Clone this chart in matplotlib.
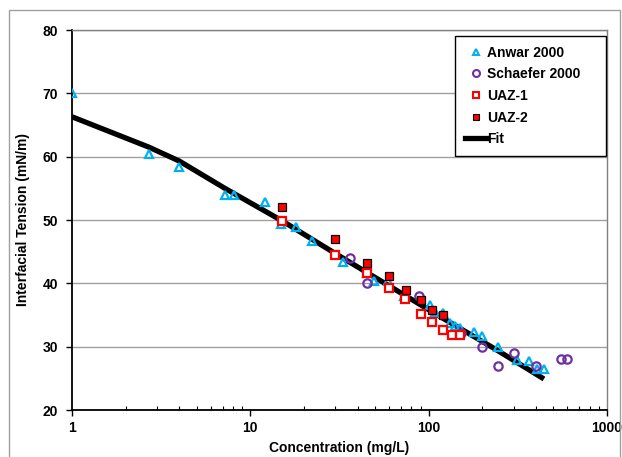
import matplotlib
matplotlib.use("Agg")
import matplotlib.pyplot as plt
from matplotlib.lines import Line2D

plt.rcParams['font.family'] = ['Liberation Sans', 'DejaVu Sans']
plt.rcParams['font.weight'] = 'bold'
plt.rcParams['font.size'] = 10

# data
anwar_c = [1.0, 2.7, 4.0, 7.2, 8.1, 12.1, 14.8, 18.1, 22.2, 33, 45, 49.4, 59, 73,
           102, 109, 121, 131, 140, 150, 180, 199, 244, 312, 364, 404, 444]
anwar_y = [70.0, 60.5, 58.4, 54.0, 54.0, 52.9, 49.4, 48.9, 46.7, 43.4, 41.6, 40.4, 40.4, 38.0,
           36.6, 35.5, 35.3, 33.7, 33.3, 32.9, 32.3, 31.7, 29.9, 27.9, 27.8, 26.4, 26.4]

schaefer_c = [36, 45, 88, 152, 200, 244, 300, 400, 553, 600]
schaefer_y = [44.0, 40.0, 38.0, 32.1, 30.0, 27.0, 29.0, 27.0, 28.0, 28.0]

uaz1_c = [15, 30, 45, 60, 74, 90, 104, 120, 135, 150]
uaz1_y = [49.8, 44.5, 41.7, 39.2, 37.6, 35.1, 33.9, 32.7, 31.8, 31.8]

uaz2_c = [15, 30, 45, 60, 75, 90, 105, 120]
uaz2_y = [52.0, 47.0, 43.2, 41.2, 39.0, 37.4, 35.8, 35.0]

fit_c = [1.0, 2.7, 4.0, 7.2, 15, 30, 60, 120, 240, 443]
fit_y = [66.3, 61.5, 59.3, 55.0, 49.9, 44.7, 39.6, 34.5, 29.5, 24.9]

cyan = '#00B0F0'
purple = '#7030A0'
red = '#FF0000'

fig = plt.figure(figsize=(6.22, 4.57), dpi=100)
ax = fig.add_axes([72/622, 1 - 410/457, (607 - 72)/622, (410 - 30)/457])

# outer chart frame
fig.add_artist(plt.Rectangle((9/622, -0.01), 611/622, 1.01 - 10/457, transform=fig.transFigure,
                             fill=False, edgecolor='#A0A0A0', lw=1))

ax.plot(fit_c, fit_y, color='black', lw=3.8, zorder=2, solid_capstyle='butt')
ax.plot(anwar_c, anwar_y, ls='none', marker='^', ms=6, mfc='none', mec=cyan, mew=1.6, zorder=3)
ax.plot(schaefer_c, schaefer_y, ls='none', marker='o', ms=6, mfc='none', mec=purple, mew=1.6, zorder=3)
ax.plot(uaz1_c, uaz1_y, ls='none', marker='s', ms=6, mfc='white', mec=red, mew=1.6, zorder=4)
ax.plot(uaz2_c, uaz2_y, ls='none', marker='s', ms=6, mfc=red, mec='black', mew=0.9, zorder=5)

ax.set_xscale('log')
ax.set_xlim(1, 1000)
ax.set_ylim(20, 80)
ax.set_xticks([1, 10, 100, 1000])
ax.set_xticklabels(['1', '10', '100', '1000'])
ax.set_yticks(range(20, 81, 10))
ax.yaxis.grid(True, color='#A0A0A0', lw=1.0)
ax.set_axisbelow(True)

ax.tick_params(axis='x', which='major', direction='out', length=4, width=1, pad=4, labelsize=10)
ax.tick_params(axis='x', which='minor', direction='in', length=3, width=0.8)
ax.tick_params(axis='y', direction='out', length=4, width=1, pad=6, labelsize=10)

for s in ['left', 'bottom']:
    ax.spines[s].set_color('black')
    ax.spines[s].set_linewidth(1.3)
for s in ['top', 'right']:
    ax.spines[s].set_color('#808080')
    ax.spines[s].set_linewidth(1.0)

ax.set_xlabel('Concentration (mg/L)', fontsize=10, fontweight='bold', labelpad=4)
ax.set_ylabel('Interfacial Tension (mN/m)', fontsize=10, fontweight='bold', labelpad=9)

handles = [
    Line2D([], [], ls='none', marker='^', ms=5, mfc='none', mec=cyan, mew=1.5),
    Line2D([], [], ls='none', marker='o', ms=5, mfc='none', mec=purple, mew=1.5),
    Line2D([], [], ls='none', marker='s', ms=5, mfc='white', mec=red, mew=1.5),
    Line2D([], [], ls='none', marker='s', ms=5, mfc=red, mec='black', mew=0.8),
    Line2D([], [], color='black', lw=3.8),
]
# trailing spaces widen the box like the original's
labels = ['Anwar 2000', 'Schaefer 2000    ', 'UAZ-1', 'UAZ-2', 'Fit']
leg = ax.legend(handles, labels, loc='upper right', bbox_to_anchor=(606/622, 1 - 36/457),
                bbox_transform=fig.transFigure, frameon=True, fancybox=False, framealpha=1,
                edgecolor='black', borderpad=0.7, labelspacing=0.55, handlelength=1.5,
                handletextpad=0.1, borderaxespad=0, prop={'weight': 'bold', 'size': 10})
leg.get_frame().set_linewidth(1.0)

fig.savefig('out.png', dpi=100)
